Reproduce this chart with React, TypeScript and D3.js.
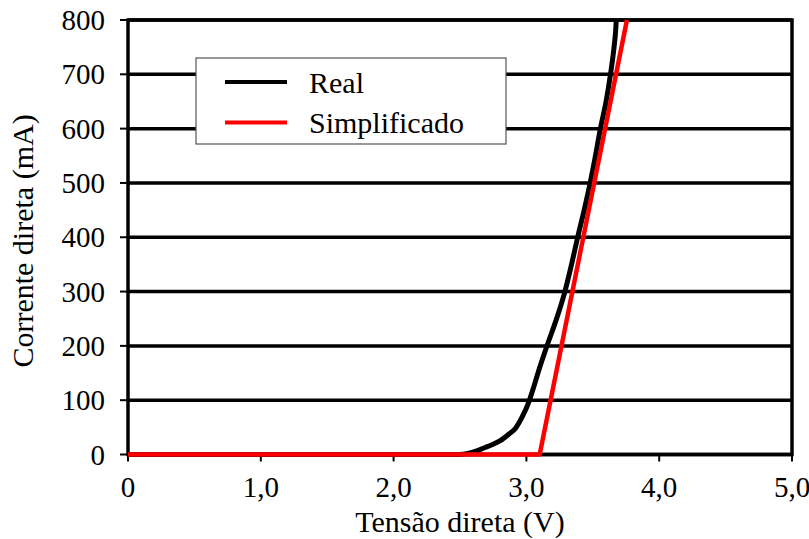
import React from 'react';
import * as d3 from 'd3';

// Tensão (V) x corrente (mA) — curva real do LED
const realVoltage = [0, 2.5, 2.56, 2.62, 2.68, 2.74, 2.8, 2.86, 2.92, 2.97, 3.02, 3.06, 3.1, 3.155, 3.23, 3.29, 3.34, 3.386, 3.435, 3.48, 3.52, 3.557, 3.6, 3.633, 3.66, 3.672, 3.677];
const realCurrent = [0, 0, 2, 6, 12, 18, 25, 36, 49, 70, 98, 128, 160, 200, 252, 300, 350, 400, 450, 500, 550, 600, 650, 700, 750, 780, 800];

// Modelo simplificado (linear por partes)
const simpVoltage = [0, 3.1, 3.757];
const simpCurrent = [0, 0, 800];

const xTicks = [0, 1, 2, 3, 4, 5];
const xTickLabels = ['0', '1,0', '2,0', '3,0', '4,0', '5,0'];
const yTicks = [0, 100, 200, 300, 400, 500, 600, 700, 800];

const legendItems = [
  { label: 'Real', color: '#000000' },
  { label: 'Simplificado', color: '#ff0000' },
];

const width = 809;
const height = 539;
const margin = { top: 20, right: 17, bottom: 85, left: 128 };
const font = "'Liberation Serif', 'Times New Roman', Tinos, 'DejaVu Serif', serif";

export default function App() {
  const x = d3
    .scaleLinear()
    .domain([0, 5])
    .range([margin.left, width - margin.right]);
  const y = d3
    .scaleLinear()
    .domain([0, 800])
    .range([height - margin.bottom + 0.5, margin.top]);

  const line = d3
    .line<[number, number]>()
    .x((d) => x(d[0]))
    .y((d) => y(d[1]))
    .curve(d3.curveMonotoneX);

  const straight = d3
    .line<[number, number]>()
    .x((d) => x(d[0]))
    .y((d) => y(d[1]));

  const realPts = realVoltage.map((v, i) => [v, realCurrent[i]] as [number, number]);
  const simpPts = simpVoltage.map((v, i) => [v, simpCurrent[i]] as [number, number]);

  const x0 = x(0);
  const x1 = x(5);
  const yTop = y(800);
  const yBot = y(0);
  const txt = { fontFamily: font };

  return (
    <svg
      width={width}
      height={height}
      style={{ position: 'absolute', left: 0, top: 0, background: '#fff' }}
    >
      {/* grid */}
      {yTicks.map((t) => (
        <line key={t} x1={x0} x2={x1} y1={y(t)} y2={y(t)} stroke="#000" strokeWidth={3.5} />
      ))}
      {/* border */}
      <rect x={x0} y={yTop} width={x1 - x0} height={yBot - yTop} fill="none" stroke="#000" strokeWidth={3.5} />

      {/* y ticks */}
      {yTicks.map((t) => (
        <g key={t}>
          <line x1={x0 - 8} x2={x0} y1={y(t)} y2={y(t)} stroke="#000" strokeWidth={2} />
          <text x={105} y={y(t)} dy="0.35em" textAnchor="end" fontSize={29} style={txt}>
            {t}
          </text>
        </g>
      ))}

      {/* x ticks */}
      {xTicks.map((t, i) => (
        <g key={t}>
          <line x1={x(t)} x2={x(t)} y1={yBot} y2={yBot + 7} stroke="#000" strokeWidth={2} />
          <text x={x(t)} y={497} textAnchor="middle" fontSize={29} style={txt}>
            {xTickLabels[i]}
          </text>
        </g>
      ))}

      {/* curves */}
      <path d={line(realPts) || ''} fill="none" stroke="#000" strokeWidth={5} strokeLinejoin="round" />
      <path d={straight(simpPts) || ''} fill="none" stroke="#ff0000" strokeWidth={4.5} strokeLinejoin="round" />

      {/* axis titles */}
      <text x={(x0 + x1) / 2} y={532} textAnchor="middle" fontSize={30} style={txt}>
        Tensão direta (V)
      </text>
      <text
        transform={`translate(33, ${241}) rotate(-90)`}
        textAnchor="middle"
        fontSize={30}
        style={txt}
      >
        Corrente direta (mA)
      </text>

      {/* legend */}
      <rect x={196} y={58} width={310} height={86} fill="#fff" stroke="#555" strokeWidth={1.2} />
      {legendItems.map((d, i) => (
        <g key={d.label}>
          <line x1={225} x2={287} y1={82 + i * 40.5} y2={82 + i * 40.5} stroke={d.color} strokeWidth={4} />
          <text x={309} y={82 + i * 40.5} dy="0.35em" fontSize={30} style={txt}>
            {d.label}
          </text>
        </g>
      ))}
    </svg>
  );
}
